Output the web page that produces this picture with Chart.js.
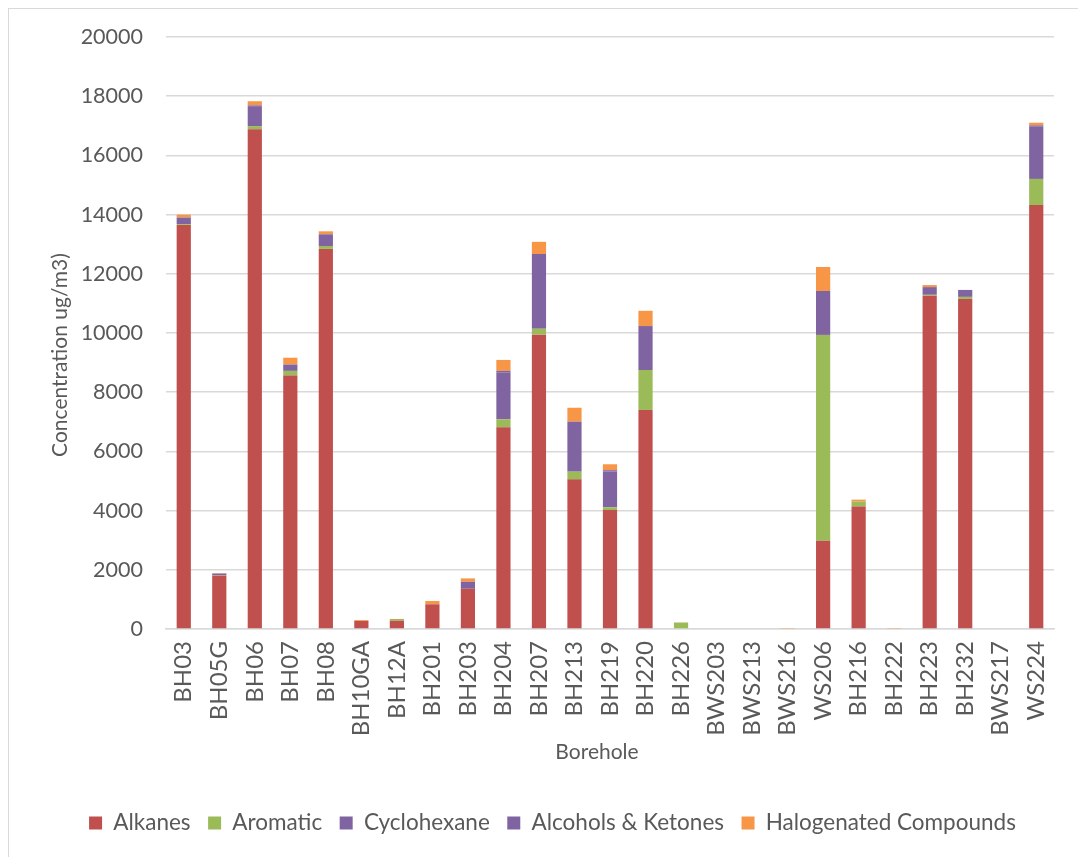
<!DOCTYPE html>
<html>
<head>
<meta charset="utf-8">
<title>Borehole concentrations</title>
<script src="https://cdn.jsdelivr.net/npm/chart.js@4/dist/chart.umd.min.js"></script>
<style>
  html, body { margin: 0; padding: 0; background: #fff; }
  #wrap { position: relative; width: 1078px; height: 857px; }
</style>
</head>
<body>
<div id="wrap"><canvas id="chart" width="1078" height="857"></canvas></div>
<script>
// boreholes along the x axis
const boreholes = ['BH03', 'BH05G', 'BH06', 'BH07', 'BH08', 'BH10GA', 'BH12A', 'BH201', 'BH203', 'BH204',
  'BH207', 'BH213', 'BH219', 'BH220', 'BH226', 'BWS203', 'BWS213', 'BWS216', 'WS206', 'BH216',
  'BH222', 'BH223', 'BH232', 'BWS217', 'WS224'];

// concentrations, ug/m3, one value per borehole
const alkanes     = [13650, 1800, 16880, 8560, 12840, 270, 280, 835, 1360, 6815,
  9945, 5055, 4020, 7400, 0, 0, 0, 0, 2985, 4135, 0, 11260, 11150, 0, 14325];
const aromatic    = [30, 10, 110, 160, 100, 0, 60, 0, 0, 270,
  200, 260, 90, 1350, 220, 0, 0, 0, 6950, 170, 0, 30, 70, 0, 880];
const cyclohexane = [220, 60, 650, 215, 395, 0, 0, 0, 235, 1575,
  2520, 1690, 1215, 1485, 0, 0, 0, 0, 1485, 0, 0, 260, 235, 0, 1780];
const alcohols    = [0, 0, 50, 0, 0, 0, 0, 0, 0, 60,
  0, 0, 40, 0, 0, 0, 0, 0, 0, 0, 0, 0, 0, 0, 30];
const halogenated = [100, 20, 140, 230, 100, 30, 0, 110, 115, 370,
  415, 470, 200, 515, 0, 0, 0, 15, 810, 65, 15, 70, 0, 0, 90];

const yTicks = [0, 2000, 4000, 6000, 8000, 10000, 12000, 14000, 16000, 18000, 20000];

const yTitle = 'Concentration ug/m3)';
const xTitle = 'Borehole';

const FONT = 'Lato, "Open Sans", sans-serif';
const GREY = '#595959';

// white background, light outer frame and the two axis titles
const framePlugin = {
  id: 'frame',
  beforeDraw(chart) {
    const ctx = chart.ctx;
    ctx.save();
    ctx.fillStyle = '#fff';
    ctx.fillRect(0, 0, chart.width, chart.height);
    ctx.strokeStyle = '#d9d9d9';
    ctx.lineWidth = 1;
    ctx.strokeRect(8.5, 8.5, chart.width + 20, chart.height + 20);
    ctx.restore();
  },
  afterDraw(chart) {
    const ctx = chart.ctx;
    ctx.save();
    ctx.fillStyle = GREY;
    ctx.font = '21px ' + FONT;
    ctx.textAlign = 'center';
    ctx.textBaseline = 'middle';
    ctx.fillText(xTitle, 597, 752);
    ctx.translate(60, 355);
    ctx.rotate(-Math.PI / 2);
    ctx.fillText(yTitle, 0, 0);
    ctx.restore();
  }
};

function series(label, data, color) {
  return { label, data, backgroundColor: color, borderWidth: 0, stack: 's' };
}

new Chart(document.getElementById('chart'), {
  type: 'bar',
  data: {
    labels: boreholes,
    datasets: [
      series('Alkanes', alkanes, '#C0504D'),
      series('Aromatic', aromatic, '#9BBB59'),
      series('Cyclohexane', cyclohexane, '#8064A2'),
      series('Alcohols & Ketones', alcohols, '#8064A2'),
      series('Halogenated Compounds', halogenated, '#F79646')
    ]
  },
  options: {
    responsive: false,
    animation: false,
    devicePixelRatio: 1,
    layout: { padding: { top: 37, left: 51, right: 24, bottom: 12.75 } },
    datasets: { bar: { categoryPercentage: 1, barPercentage: 0.4 } },
    plugins: {
      legend: {
        position: 'bottom',
        labels: {
          boxWidth: 13, boxHeight: 13, padding: 17.5,
          color: GREY,
          font: { family: FONT, size: 22.5 }
        }
      },
      tooltip: { enabled: false }
    },
    scales: {
      x: {
        stacked: true,
        grid: { display: false, drawTicks: false },
        border: { color: '#d9d9d9', width: 1.5 },
        ticks: {
          color: GREY, padding: 12, autoSkip: false,
          minRotation: 90, maxRotation: 90,
          font: { family: FONT, size: 24 }
        },
        afterFit(s) { s.height = 165.25; }
      },
      y: {
        stacked: true,
        min: 0, max: 20000,
        afterBuildTicks(s) { s.ticks = yTicks.map(v => ({ value: v })); },
        grid: { color: '#d9d9d9', lineWidth: 1.5, drawTicks: false },
        border: { display: false },
        ticks: {
          color: GREY, padding: 23,
          font: { family: FONT, size: 21.5 },
          callback: v => String(v)
        },
        afterFit(s) { s.width = 115; }
      }
    }
  },
  plugins: [framePlugin]
});
</script>
</body>
</html>
